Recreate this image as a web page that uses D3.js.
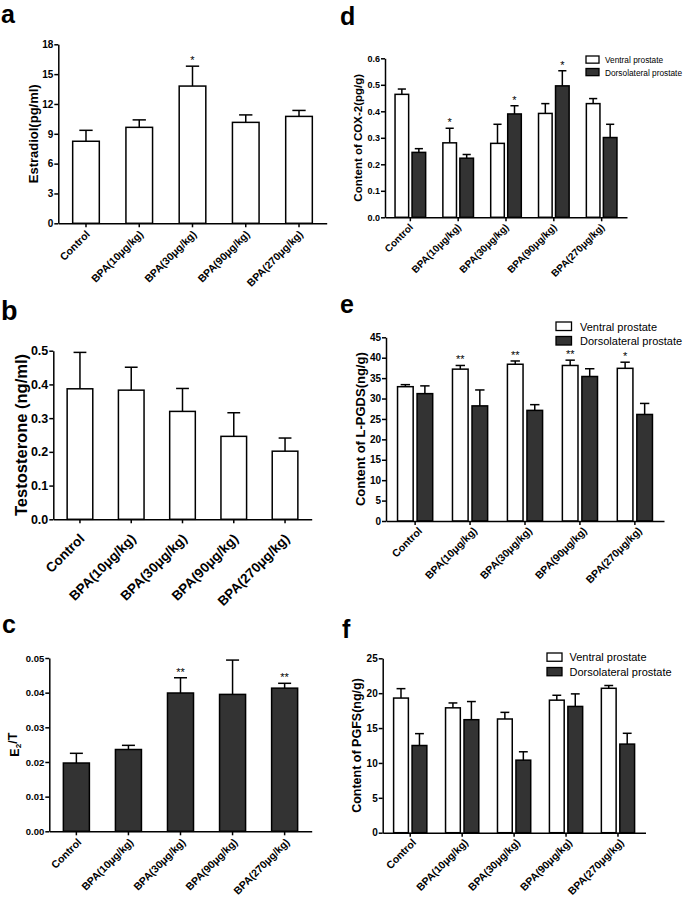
<!DOCTYPE html>
<html>
<head>
<meta charset="utf-8">
<script src="https://cdn.jsdelivr.net/npm/d3@7"></script>
<style>
  body { margin: 0; background: #fff; }
  svg { display: block; }
</style>
</head>
<body>
<div id="fig"></div>
<script>
const W = 685, H = 899;
const font = "'Liberation Sans', Arial, Helvetica, sans-serif";

// ---- data (means and upper SEM) ----
const groups = ["Control", "BPA(10μg/kg)", "BPA(30μg/kg)", "BPA(90μg/kg)", "BPA(270μg/kg)"];
const series = ["Ventral prostate", "Dorsolateral prostate"];

const estradiolMean = [8.25, 9.65, 13.8, 10.15, 10.75];
const estradiolSem  = [1.1, 0.75, 2.0, 0.75, 0.6];
const estradiolSig  = ["", "", "*", "", ""];

const testoMean = [0.387, 0.383, 0.320, 0.246, 0.202];
const testoSem  = [0.108, 0.068, 0.068, 0.070, 0.039];
const testoSig  = ["", "", "", "", ""];

const ratioMean = [0.0197, 0.0236, 0.0399, 0.0395, 0.0413];
const ratioSem  = [0.0028, 0.0012, 0.0044, 0.0099, 0.0014];
const ratioSig  = ["", "", "**", "", "**"];

const coxVentral    = [0.464, 0.281, 0.279, 0.392, 0.429];
const coxVentralSem = [0.020, 0.055, 0.072, 0.037, 0.019];
const coxVentralSig = ["", "*", "", "", ""];
const coxDorsal     = [0.245, 0.223, 0.390, 0.496, 0.301];
const coxDorsalSem  = [0.014, 0.014, 0.031, 0.057, 0.050];
const coxDorsalSig  = ["", "", "*", "*", ""];

const lpgdsVentral    = [32.9, 37.2, 38.4, 38.1, 37.4];
const lpgdsVentralSem = [0.5, 0.9, 0.8, 1.3, 1.5];
const lpgdsVentralSig = ["", "**", "**", "**", "*"];
const lpgdsDorsal     = [31.2, 28.2, 27.1, 35.4, 26.1];
const lpgdsDorsalSem  = [1.9, 3.9, 1.4, 1.9, 2.7];
const lpgdsDorsalSig  = ["", "", "", "", ""];

const pgfsVentral    = [19.3, 17.9, 16.3, 19.0, 20.7];
const pgfsVentralSem = [1.35, 0.7, 0.95, 0.7, 0.4];
const pgfsVentralSig = ["", "", "", "", ""];
const pgfsDorsal     = [12.5, 16.2, 10.4, 18.1, 12.7];
const pgfsDorsalSem  = [1.7, 2.6, 1.2, 1.8, 1.55];
const pgfsDorsalSig  = ["", "", "", "", ""];

const svg = d3.select("#fig").append("svg")
    .attr("width", W).attr("height", H)
    .style("font-family", font);

// shared axes: GraphPad look, ticks outward, rotated group labels
function axes(g, x, y, p) {
  const yAxis = g.append("g")
      .attr("transform", `translate(${p.x0},0)`)
      .call(d3.axisLeft(y)
        .tickValues(d3.range(0, p.max + p.step / 2, p.step))
        .tickFormat(d3.format(p.fmt))
        .tickSize(4).tickSizeOuter(0).tickPadding(1));
  yAxis.selectAll("text")
      .attr("font-size", p.tickFont).attr("font-weight", "bold")
      .attr("font-family", font).attr("fill", "#000");

  const xAxis = g.append("g")
      .attr("transform", `translate(0,${p.yBottom})`)
      .call(d3.axisBottom(x).tickSize(4).tickSizeOuter(0));
  xAxis.selectAll("text")
      .attr("font-size", p.xFont).attr("font-weight", "bold")
      .attr("font-family", font).attr("fill", "#000")
      .attr("text-anchor", "end")
      .attr("x", 0).attr("y", 0).attr("dy", "0.35em")
      .attr("transform", `translate(${p.xdx},${p.xdy}) rotate(-45)`);

  g.selectAll(".domain, .tick line")
      .attr("stroke", "#000").attr("stroke-width", 1.5);

  const lab = g.append("text")
      .attr("transform", `translate(${p.labelX},${(p.yTop + p.yBottom) / 2}) rotate(-90)`)
      .attr("text-anchor", "middle")
      .attr("font-size", p.labelFont).attr("font-weight", "bold");
  if (p.labelParts) {
    p.labelParts.forEach(t => {
      const ts = lab.append("tspan").text(t.s);
      if (t.sub) ts.attr("font-size", p.labelFont * 0.65).attr("dy", "0.3em");
      if (t.back) ts.attr("dy", "-0.3em");
    });
  } else lab.text(p.label);

  g.append("text")
      .attr("x", p.letterX).attr("y", p.letterY)
      .attr("font-size", p.letterFont).attr("font-weight", "bold")
      .text(p.letter);
}

function errorBars(g, items, y, capW) {
  // items: {cx, v, e, sig}
  const eb = g.append("g").attr("stroke", "#000").attr("stroke-width", 1.5);
  eb.selectAll("line.v").data(items).join("line")
      .attr("x1", d => d.cx).attr("x2", d => d.cx)
      .attr("y1", d => y(d.v)).attr("y2", d => y(d.v + d.e));
  eb.selectAll("line.c").data(items).join("line")
      .attr("x1", d => d.cx - capW / 2).attr("x2", d => d.cx + capW / 2)
      .attr("y1", d => y(d.v + d.e)).attr("y2", d => y(d.v + d.e));
  g.selectAll("text.sig").data(items.filter(d => d.sig)).join("text")
      .attr("class", "sig")
      .attr("x", d => d.cx).attr("y", d => y(d.v + d.e) - 2)
      .attr("text-anchor", "middle").attr("font-size", 11)
      .text(d => d.sig);
}

function singlePanel(p, mean, sem, sig) {
  const g = svg.append("g");
  const x = d3.scaleBand().domain(groups).range([p.x0, p.x1])
      .paddingInner(0.5).paddingOuter(0.27);
  const y = d3.scaleLinear().domain([0, p.max]).range([p.yBottom, p.yTop]);

  g.selectAll("rect").data(groups).join("rect")
      .attr("x", d => x(d)).attr("width", x.bandwidth())
      .attr("y", (d, i) => y(mean[i]))
      .attr("height", (d, i) => y(0) - y(mean[i]))
      .attr("fill", p.fill).attr("stroke", "#000").attr("stroke-width", 1.5);

  const items = groups.map((d, i) => ({cx: x(d) + x.bandwidth() / 2, v: mean[i], e: sem[i], sig: sig[i]}));
  errorBars(g, items, y, x.bandwidth() * 0.5);
  axes(g, x, y, p);
}

function groupedPanel(p, vals, sems, sigs) {
  const g = svg.append("g");
  const x = d3.scaleBand().domain(groups).range([p.x0, p.x1])
      .paddingInner(0.36).paddingOuter(0.21);
  const xi = d3.scaleBand().domain(series).range([0, x.bandwidth()]).paddingInner(0.2);
  const y = d3.scaleLinear().domain([0, p.max]).range([p.yBottom, p.yTop]);
  const fills = ["#fff", "#333"];

  const items = [];
  series.forEach((s, k) => {
    groups.forEach((gr, i) => {
      items.push({gx: x(gr) + xi(s), cx: x(gr) + xi(s) + xi.bandwidth() / 2,
                  v: vals[k][i], e: sems[k][i], sig: sigs[k][i], k});
    });
  });

  g.selectAll("rect.bar").data(items).join("rect")
      .attr("class", "bar")
      .attr("x", d => d.gx).attr("width", xi.bandwidth())
      .attr("y", d => y(d.v)).attr("height", d => y(0) - y(d.v))
      .attr("fill", d => fills[d.k]).attr("stroke", "#000").attr("stroke-width", 1.5);

  errorBars(g, items, y, xi.bandwidth() * 0.6);
  axes(g, x, y, p);

  // legend
  const lg = g.append("g").attr("transform", `translate(${p.legX},${p.legY})`);
  series.forEach((s, k) => {
    lg.append("rect").attr("x", 0).attr("y", k * p.legGap)
        .attr("width", p.legBox).attr("height", p.legBox * 0.55)
        .attr("fill", fills[k]).attr("stroke", "#000").attr("stroke-width", 1.3);
    lg.append("text").attr("x", p.legBox + p.legTextGap).attr("y", k * p.legGap + p.legBox * 0.55)
        .attr("font-size", p.legFont).text(s);
  });
}

// a
singlePanel({x0: 58.3, x1: 326.7, yTop: 44.3, yBottom: 223.3, max: 18, step: 3, fmt: "d",
  fill: "#fff", tickFont: 10, xFont: 10.5, xdx: 2, xdy: 9,
  label: "Estradiol(pg/ml)", labelX: 37.5, labelFont: 13,
  letter: "a", letterX: 1, letterY: 23, letterFont: 25}, estradiolMean, estradiolSem, estradiolSig);

// b
singlePanel({x0: 53.3, x1: 311.7, yTop: 350.7, yBottom: 519.3, max: 0.5, step: 0.1, fmt: ".1f",
  fill: "#fff", tickFont: 12.5, xFont: 13.5, xdx: 2, xdy: 17,
  label: "Testosterone (ng/ml)", labelX: 27, labelFont: 16.5,
  letter: "b", letterX: 1, letterY: 320, letterFont: 27}, testoMean, testoSem, testoSig);

// c
singlePanel({x0: 49.3, x1: 311.7, yTop: 658, yBottom: 831.3, max: 0.05, step: 0.01, fmt: ".2f",
  fill: "#333", tickFont: 9.5, xFont: 10.5, xdx: 3, xdy: 9,
  labelParts: [{s: "E"}, {s: "2", sub: true}, {s: "/T", back: true}], labelX: 18.5, labelFont: 12.5,
  letter: "c", letterX: 2, letterY: 633, letterFont: 25}, ratioMean, ratioSem, ratioSig);

// d
groupedPanel({x0: 385, x1: 627, yTop: 58.3, yBottom: 217.3, max: 0.6, step: 0.1, fmt: ".1f",
  tickFont: 9, xFont: 10, xdx: 1, xdy: 8,
  label: "Content of COX-2(pg/g)", labelX: 362, labelFont: 11.5,
  letter: "d", letterX: 340, letterY: 25, letterFont: 25,
  legX: 586, legY: 56, legGap: 12.5, legBox: 13, legTextGap: 6, legFont: 8.3},
  [coxVentral, coxDorsal], [coxVentralSem, coxDorsalSem], [coxVentralSig, coxDorsalSig]);

// e
groupedPanel({x0: 386, x1: 664, yTop: 337.3, yBottom: 521, max: 45, step: 5, fmt: "d",
  tickFont: 10, xFont: 10.5, xdx: 5, xdy: 8,
  label: "Content of L-PGDS(ng/g)", labelX: 364.5, labelFont: 13,
  letter: "e", letterX: 340, letterY: 313, letterFont: 25,
  legX: 556, legY: 322, legGap: 14.5, legBox: 15.5, legTextGap: 8.5, legFont: 11},
  [lpgdsVentral, lpgdsDorsal], [lpgdsVentralSem, lpgdsDorsalSem], [lpgdsVentralSig, lpgdsDorsalSig]);

// f
groupedPanel({x0: 382.7, x1: 645.5, yTop: 658.3, yBottom: 832.7, max: 25, step: 5, fmt: "d",
  tickFont: 10, xFont: 10.5, xdx: 4, xdy: 8,
  label: "Content of PGFS(ng/g)", labelX: 361, labelFont: 12.5,
  letter: "f", letterX: 342, letterY: 638, letterFont: 25,
  legX: 547, legY: 653, legGap: 14.5, legBox: 15, legTextGap: 7.5, legFont: 11},
  [pgfsVentral, pgfsDorsal], [pgfsVentralSem, pgfsDorsalSem], [pgfsVentralSig, pgfsDorsalSig]);
</script>
</body>
</html>
